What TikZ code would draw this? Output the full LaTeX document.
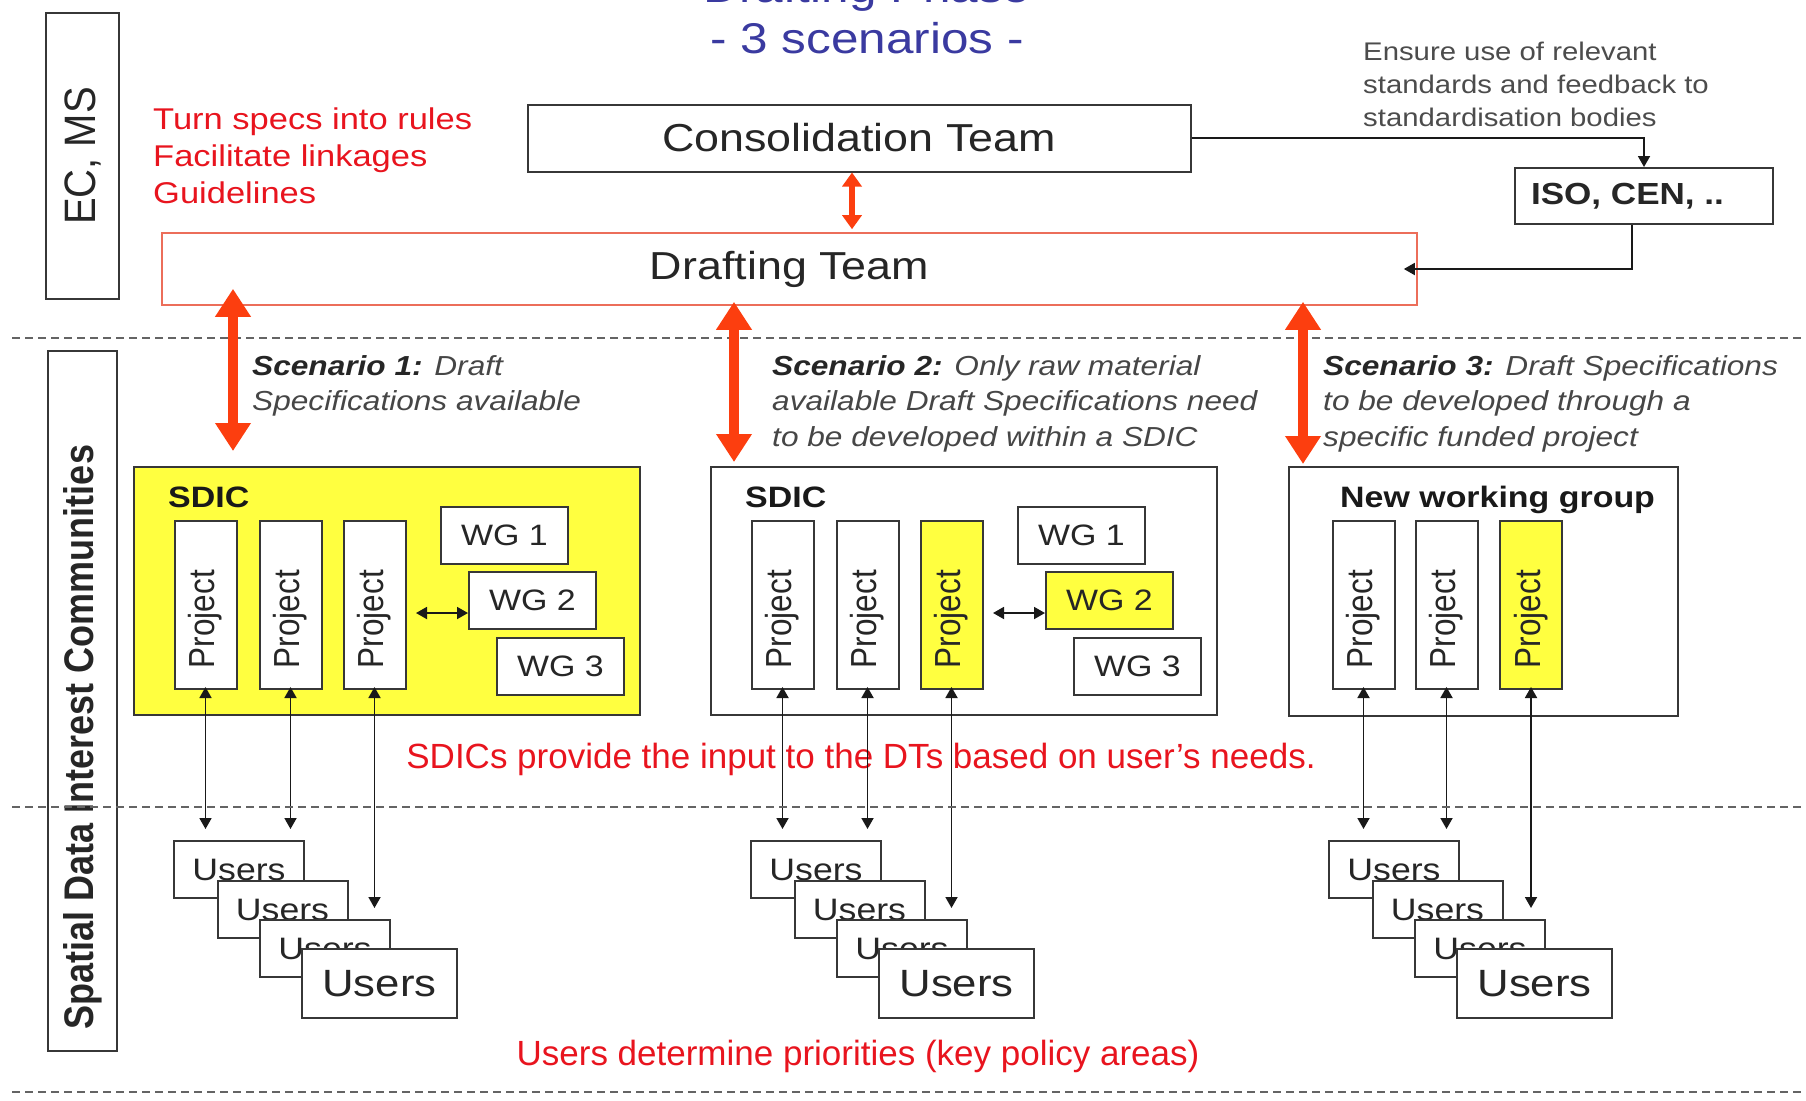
\documentclass[tikz,border=0pt]{standalone}
\usepackage{fontspec}
\usepackage{graphicx}
\setmainfont[FakeStretch=1.15]{Liberation Sans}
\newfontfamily\plainf{Liberation Sans}
\usetikzlibrary{arrows.meta}
\definecolor{tblue}{RGB}{58,58,160}
\definecolor{tred}{RGB}{232,20,30}
\definecolor{aorange}{RGB}{252,62,15}
\definecolor{dtred}{RGB}{236,110,90}
\definecolor{bgray}{RGB}{55,55,55}
\definecolor{sgray}{RGB}{70,70,70}
\definecolor{ylw}{RGB}{255,255,64}
\definecolor{dgray}{RGB}{100,100,100}
\newcommand\projtxt{\rotatebox{90}{\plainf\fontsize{31.5}{31.5}\selectfont\scalebox{1}[1.15]{Project}\hspace*{28pt}}}
\begin{document}
\begin{tikzpicture}[x=1pt,y=-1pt,
  box/.style={draw=bgray,line width=2pt,fill=white,inner sep=0pt,text=black!85},
  proj/.style={box,minimum width=62pt,minimum height=168pt},
  wgbox/.style={box,minimum width=127pt,minimum height=57pt,font=\fontsize{29.5}{29.5}\selectfont},
  usr/.style={box,minimum width=130pt,minimum height=57pt,font=\fontsize{31}{31}\selectfont},
  usrbig/.style={box,minimum width=155pt,minimum height=69pt,font=\fontsize{38}{38}\selectfont},
  grp/.style={font=\bfseries\fontsize{29.5}{29.5}\selectfont,anchor=base west,inner sep=0pt,text=black!90},
  bigred/.style={aorange,line width=10pt,{Triangle[width=34pt,length=28pt]}-{Triangle[width=34pt,length=28pt]}},
  midred/.style={aorange,line width=6pt,{Triangle[width=19pt,length=14pt]}-{Triangle[width=19pt,length=14pt]}},
  conn/.style={black!90,line width=1.8pt,-{Triangle[width=12pt,length=11pt]}},
  connboth/.style={black!90,line width=1.8pt,{Triangle[width=12pt,length=11pt]}-{Triangle[width=12pt,length=11pt]}},
  sepline/.style={dgray,line width=2pt,dash pattern=on 8pt off 5pt},
  scen/.style={anchor=north west,align=left,inner sep=0pt,text=sgray,font=\itshape\fontsize{27.5}{35.5}\selectfont},
]
\path[use as bounding box] (0,0) rectangle (1806,1100);

% title
\node[font=\fontsize{43}{43}\selectfont,text=tblue,anchor=base] (ttl0) at (867,2) {Drafting Phase};
\node[font=\fontsize{43}{43}\selectfont,text=tblue,anchor=base] (ttl) at (867,53) {- 3 scenarios -};

% side boxes
\node[box,minimum width=73pt,minimum height=286pt] (ecms) at (82.5,156)
  {\rotatebox{90}{\plainf\fontsize{40}{40}\selectfont\scalebox{1}[1.1]{EC, MS}}};
\node[box,fill=none,minimum width=69pt,minimum height=700pt] (sdicside) at (82.5,701)
  {\rotatebox{90}{\plainf\bfseries\fontsize{36}{36}\selectfont\scalebox{1}[1.15]{Spatial Data Interest Communities}\hspace*{72pt}}};

% top texts
\node[anchor=north west,align=left,inner sep=0pt,text=tred,font=\fontsize{30}{37}\selectfont] (rules) at (153,108)
  {Turn specs into rules\\Facilitate linkages\\Guidelines};
\node[anchor=north west,align=left,inner sep=0pt,text=black!70,font=\fontsize{25.5}{33}\selectfont] (ensure) at (1363,42)
  {Ensure use of relevant\\standards and feedback to\\standardisation bodies};

% teams
\node[box,minimum width=663pt,minimum height=67pt,font=\fontsize{39}{39}\selectfont] (ct) at (859,138) {Consolidation Team};
\node[box,draw=dtred,line width=1.6pt,minimum width=1255pt,minimum height=72pt,font=\fontsize{39}{39}\selectfont] (dt) at (789.5,269) {Drafting Team};
\node[box,minimum width=258pt,minimum height=56pt,font=\bfseries\fontsize{30.5}{30.5}\selectfont] (iso) at (1644,196) {ISO, CEN, ..\hspace*{33pt}};

\draw[conn] (ct.east) -| (iso.north);
\draw[conn,shorten >=-14pt] ([xshift=-12pt]iso.south) |- (dt.east);

% scenario texts
\node[scen] (sc1) at (252,355) {{\bfseries\color{black!85}Scenario 1:} Draft\\Specifications available};
\node[scen] (sc2) at (772,355) {{\bfseries\color{black!85}Scenario 2:} Only raw material\\available Draft Specifications need\\to be developed within a SDIC};
\node[scen] (sc3) at (1323,355) {{\bfseries\color{black!85}Scenario 3:} Draft Specifications\\to be developed through a\\specific funded project};

% ---------- Scenario 1
\node[box,fill=ylw,minimum width=506pt,minimum height=248pt] (sdic1) at (387,591) {};
\node[grp] (sdic1l) at (168,507) {SDIC};
\node[proj] (p11) at (205.5,605) {\projtxt};
\node[proj] (p12) at (290.5,605) {\projtxt};
\node[proj] (p13) at (374.5,605) {\projtxt};
\node[wgbox] (w11) at (504.5,535.5) {WG 1};
\node[wgbox] (w12) at (532.5,600.5) {WG 2};
\node[wgbox] (w13) at (560.5,666) {WG 3};
\coordinate (d1) at (416,613);
\draw[connboth] (d1) -- (w12.west |- d1);

% ---------- Scenario 2
\node[box,minimum width=506pt,minimum height=248pt] (sdic2) at (964,591) {};
\node[grp] (sdic2l) at (745,507) {SDIC};
\node[proj] (p21) at (782.5,605) {\projtxt};
\node[proj] (p22) at (867.5,605) {\projtxt};
\node[proj,fill=ylw] (p23) at (951.5,605) {\projtxt};
\node[wgbox] (w21) at (1081.5,535.5) {WG 1};
\node[wgbox,fill=ylw] (w22) at (1109.5,600.5) {WG 2};
\node[wgbox] (w23) at (1137.5,666) {WG 3};
\coordinate (d2) at (993,613);
\draw[connboth] (d2) -- (w22.west |- d2);

% ---------- Scenario 3
\node[box,minimum width=389pt,minimum height=249pt] (nwg) at (1483.5,591.5) {};
\node[grp] (nwgl) at (1340,507) {New working group};
\node[proj] (p31) at (1363.5,605) {\projtxt};
\node[proj] (p32) at (1446.5,605) {\projtxt};
\node[proj,fill=ylw] (p33) at (1531,605) {\projtxt};

% red middle text
\node[font=\plainf\fontsize{35}{35}\selectfont,text=tred,anchor=base] (inp) at (861,768) {SDICs provide the input to the DTs based on user’s needs.};
\node[font=\plainf\fontsize{35}{35}\selectfont,text=tred,anchor=base] (prio) at (858,1065) {Users determine priorities (key policy areas)};

% users stacks
\node[usr] (u11) at (239,869.5) {Users};
\node[usr] (u12) at (282.5,909.5) {Users};
\node[usr] (u13) at (325,948.5) {Users};
\node[usrbig] (u14) at (379.5,983.5) {Users};
\node[usr] (u21) at (816,869.5) {Users};
\node[usr] (u22) at (859.5,909.5) {Users};
\node[usr] (u23) at (902,948.5) {Users};
\node[usrbig] (u24) at (956.5,983.5) {Users};
\node[usr] (u31) at (1394,869.5) {Users};
\node[usr] (u32) at (1437.5,909.5) {Users};
\node[usr] (u33) at (1480,948.5) {Users};
\node[usrbig] (u34) at (1534.5,983.5) {Users};

% project - users arrows
\foreach \s in {1,2,3}{
  \draw[connboth,shorten <=-3pt,shorten >=11pt] (p\s1.south) -- (p\s1.south |- u\s1.north);
  \draw[connboth,shorten <=-3pt,shorten >=11pt] (p\s2.south) -- (p\s2.south |- u\s1.north);
  \draw[connboth,shorten <=-3pt,shorten >=11pt] (p\s3.south) -- (p\s3.south |- u\s3.north);
}

% separators
\draw[sepline] (12,338) -- (1806,338);
\draw[sepline] (12,807) -- (1806,807);
\draw[sepline] (12,1092) -- (1806,1092);

% red arrows
\coordinate (r0) at (852,0);
\coordinate (r1) at (233,0);
\coordinate (r2) at (734,0);
\coordinate (r3) at (1303,0);
\draw[midred,shorten >=3pt] (ct.south -| r0) -- (dt.north -| r0);
\draw[bigred,shorten <=-17pt,shorten >=15pt] (dt.south -| r1) -- (sdic1.north -| r1);
\draw[bigred,shorten <=-4pt,shorten >=4pt] (dt.south -| r2) -- (sdic2.north -| r2);
\draw[bigred,shorten <=-4pt,shorten >=2pt] (dt.south -| r3) -- (nwg.north -| r3);
\end{tikzpicture}
\end{document}
